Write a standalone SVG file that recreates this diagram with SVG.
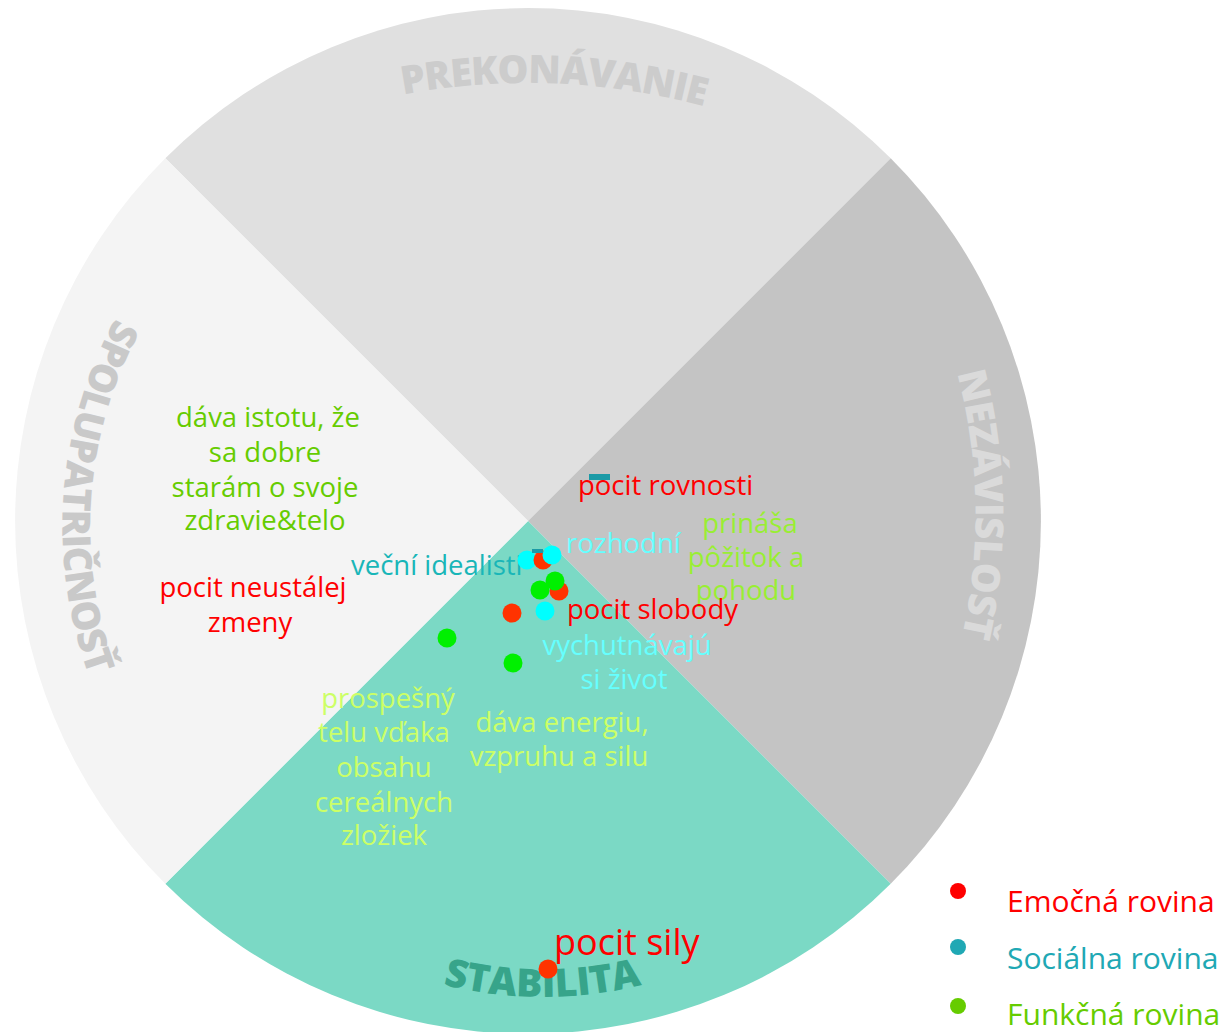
<svg xmlns="http://www.w3.org/2000/svg" width="1226" height="1032" viewBox="0 0 1226 1032">
<style>
.t{font-family:"Open Sans","Liberation Sans",sans-serif;font-size:27.5px}
.m{text-anchor:middle}
.lbl{font-family:"Open Sans","Liberation Sans",sans-serif;font-weight:800;font-size:39px}
.red{fill:#ff0000}
.cyan{fill:#66ffff}
.teal{fill:#19b6b8}
.yg{fill:#99ee33}
.pale{fill:#ccff66}
.grn{fill:#66cc00}
.dr{fill:#ff3300}
.dc{fill:#00ffff}
.dg{fill:#00f000}
.bar{fill:#1b9aa6}
</style>
<defs>
<path id="arcTop" d="M403,94.6 A677,677 0 0 1 760,124"/>
<path id="arcBottom" d="M443,984.5 A406,406 0 0 0 660,979.8"/>
<path id="arcLeft" d="M115.5,318 A436,436 0 0 0 98.5,700"/>
<path id="arcRight" d="M957,373 A551,551 0 0 1 956,660"/>
</defs>
<rect width="1226" height="1032" fill="#ffffff"/>
<g id="wheel">
<path id="q-top" d="M528,521 L165.3,158.3 A513,513 0 0 1 890.7,158.3 Z" fill="#e0e0e0"/>
<path id="q-right" d="M528,521 L890.7,158.3 A513,513 0 0 1 890.7,883.7 Z" fill="#c4c4c4"/>
<path id="q-bottom" d="M528,521 L890.7,883.7 A513,513 0 0 1 165.3,883.7 Z" fill="#7bd9c5"/>
<path id="q-left" d="M528,521 L165.3,883.7 A513,513 0 0 1 165.3,158.3 Z" fill="#f4f4f4"/>
</g>
<g id="sector-labels">
<text class="lbl" fill="#cccccc"><textPath href="#arcTop" textLength="304" lengthAdjust="spacing">PREKONÁVANIE</textPath></text>
<text class="lbl" fill="#37a48a"><textPath href="#arcBottom" textLength="201" lengthAdjust="spacing">STABILITA</textPath></text>
<text class="lbl" fill="#c9c9c9"><textPath href="#arcLeft" textLength="370" lengthAdjust="spacing">SPOLUPATRIČNOSŤ</textPath></text>
<text class="lbl" fill="#dadada"><textPath href="#arcRight" textLength="266" lengthAdjust="spacing">NEZÁVISLOSŤ</textPath></text>
</g>
<g id="texts">
<text class="t grn m"><tspan x="268" y="427">dáva istotu, že</tspan><tspan x="265" y="462">sa dobre</tspan><tspan x="265" y="497">starám o svoje</tspan><tspan x="265" y="530">zdravie&amp;telo</tspan></text>
<text class="t red m"><tspan x="253" y="597">pocit neustálej</tspan><tspan x="250" y="632">zmeny</tspan></text>
<text class="t red" x="578" y="495">pocit rovnosti</text>
<text class="t cyan" x="566" y="553">rozhodní</text>
<text class="t yg m"><tspan x="750" y="533">prináša</tspan><tspan x="746" y="567">pôžitok a</tspan><tspan x="746" y="600">pohodu</tspan></text>
<text class="t teal" x="351" y="575">veční idealisti</text>
<text class="t red" x="567" y="619">pocit slobody</text>
<text class="t cyan m"><tspan x="627" y="655">vychutnávajú</tspan><tspan x="624" y="689">si život</tspan></text>
<text class="t pale m"><tspan x="562" y="732">dáva energiu,</tspan><tspan x="559" y="766">vzpruhu a silu</tspan></text>
<text class="t pale m"><tspan x="388" y="708">prospešný</tspan><tspan x="384" y="742">telu vďaka</tspan><tspan x="384" y="777">obsahu</tspan><tspan x="384" y="812">cereálnych</tspan><tspan x="384" y="845">zložiek</tspan></text>
<text class="red" x="554" y="955" font-family="'Open Sans','Liberation Sans',sans-serif" font-size="36">pocit sily</text>
</g>
<g id="points">
<rect class="bar" x="589" y="474" width="21" height="6"/>
<circle class="dc" cx="527" cy="560" r="9.5"/>
<circle class="dr" cx="543" cy="560" r="9.5"/>
<rect class="bar" x="532" y="549" width="11" height="4"/>
<circle class="dc" cx="552" cy="555" r="9.5"/>
<circle class="dr" cx="559" cy="591" r="9.5"/>
<circle class="dg" cx="540" cy="590" r="9.5"/>
<circle class="dg" cx="555" cy="581" r="9.5"/>
<circle class="dr" cx="512" cy="613" r="9.5"/>
<circle class="dc" cx="545" cy="611" r="9.5"/>
<circle class="dg" cx="447" cy="638" r="9.5"/>
<circle class="dg" cx="513" cy="663" r="9.5"/>
<circle class="dr" cx="548" cy="969" r="9.5"/>
</g>
<g id="legend" font-family="'Open Sans','Liberation Sans',sans-serif" font-size="30">
<g id="legend-emo"><circle cx="958" cy="891" r="8" fill="#ff0000"/><text x="1007" y="912" fill="#ff0000">Emočná rovina</text></g>
<g id="legend-soc"><circle cx="958" cy="947" r="8" fill="#20a8b4"/><text x="1007" y="969" fill="#20a8b4">Sociálna rovina</text></g>
<g id="legend-fun"><circle cx="958" cy="1006" r="8" fill="#66cc00"/><text x="1007" y="1025" fill="#66cc00">Funkčná rovina</text></g>
</g>
</svg>
